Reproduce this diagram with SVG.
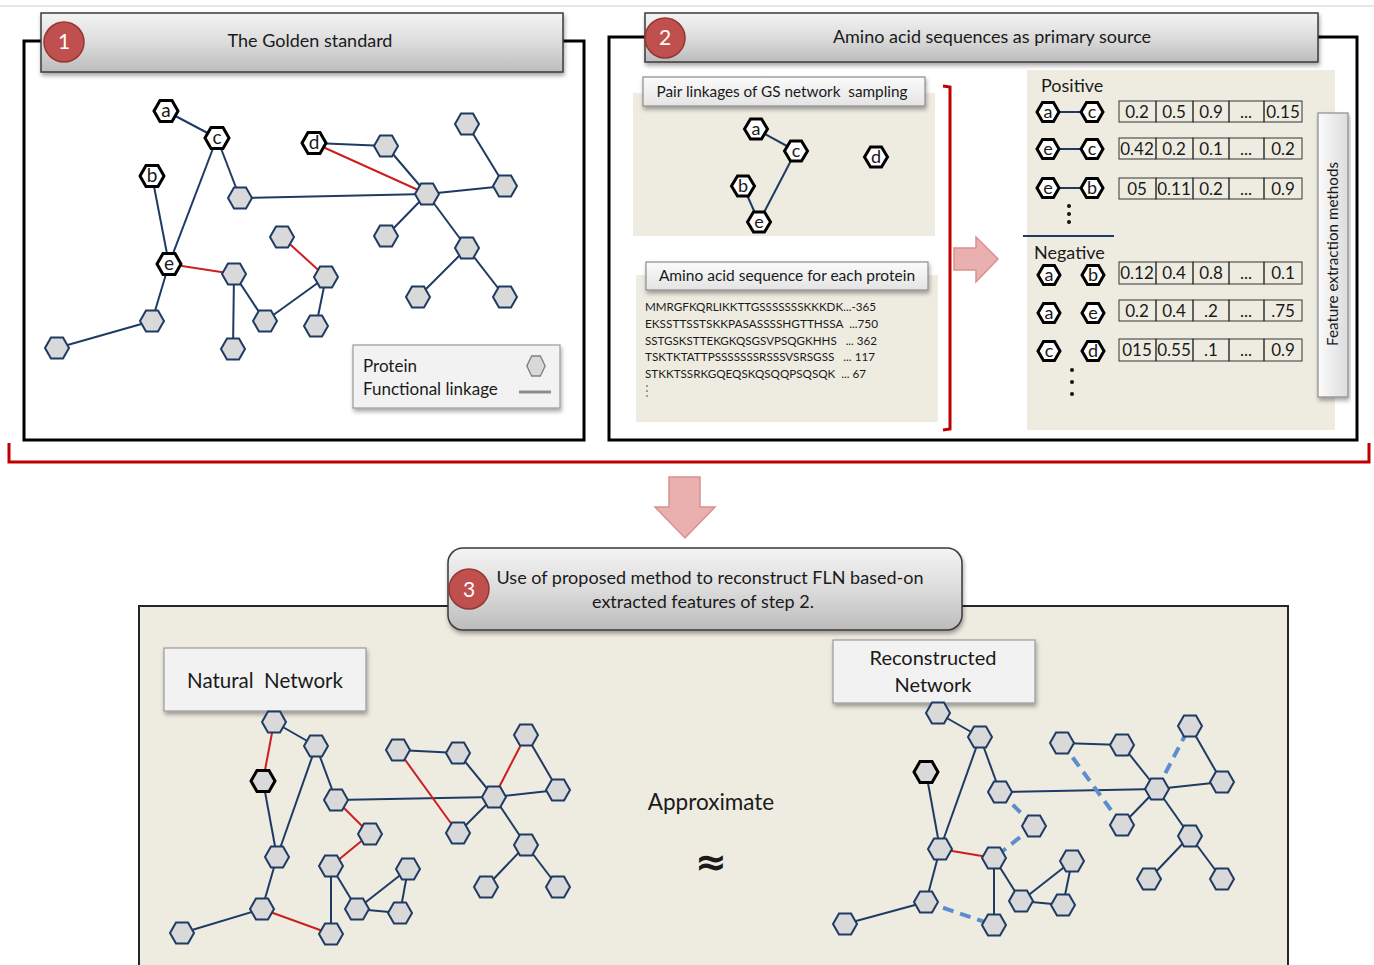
<svg xmlns="http://www.w3.org/2000/svg" xmlns:xlink="http://www.w3.org/1999/xlink" width="1374" height="965" viewBox="0 0 1374 965">
<defs>
<linearGradient id="hdr" x1="0" y1="0" x2="0" y2="1"><stop offset="0" stop-color="#f4f4f4"/><stop offset="0.5" stop-color="#dcdcdc"/><stop offset="1" stop-color="#bcbcbc"/></linearGradient>
<linearGradient id="lbl" x1="0" y1="0" x2="0" y2="1"><stop offset="0" stop-color="#fbfbfb"/><stop offset="1" stop-color="#e4e4e4"/></linearGradient>
<linearGradient id="vlbl" x1="0" y1="0" x2="1" y2="0"><stop offset="0" stop-color="#fbfbfb"/><stop offset="1" stop-color="#dcdcdc"/></linearGradient>
<filter id="sh" x="-10%" y="-20%" width="120%" height="150%"><feDropShadow dx="1" dy="3" stdDeviation="2" flood-color="#000" flood-opacity="0.35"/></filter>
<path id="hg" d="M-12,0 L-6,-10.5 L6,-10.5 L12,0 L6,10.5 L-6,10.5 Z"/>
<path id="hs" d="M-11.5,0 L-5.5,-10 L5.5,-10 L11.5,0 L5.5,10 L-5.5,10 Z"/>
<path id="ht" d="M-11,0 L-5.5,-9.5 L5.5,-9.5 L11,0 L5.5,9.5 L-5.5,9.5 Z"/>
</defs>
<style>
text{font-family:Lato,"Liberation Sans",sans-serif;fill:#1a1a1a}
.panel{fill:#fff;stroke:#000;stroke-width:3}
.hdr{fill:url(#hdr);stroke:#3a3a3a;stroke-width:1.5;filter:url(#sh)}
.lbl{fill:url(#lbl);stroke:#8c8c8c;stroke-width:1.2;filter:url(#sh)}
.box{fill:#f2f2f2;stroke:#999;stroke-width:1.2;filter:url(#sh)}
.tan{fill:#eeece1}
.num{fill:#c0504d;stroke:#943634;stroke-width:1.5}
.numt{fill:#fff;font-size:21px;text-anchor:middle}
.gh{fill:#d9d9d9;stroke:#1f3b63;stroke-width:2}
.kh{fill:#fff;stroke:#000;stroke-width:3}
.kd{fill:#d9d9d9;stroke:#000;stroke-width:3}
.lt{font-size:19px;text-anchor:middle}
.st{font-size:18px;text-anchor:middle}
.e{stroke:#1f3b63;stroke-width:2;fill:none}
.r{stroke:#cc1f1f;stroke-width:2;fill:none}
.d{stroke:#5b8dcf;stroke-width:4;stroke-dasharray:11 7;fill:none}
.br{stroke:#c00000;stroke-width:3;fill:none}
.arrow{fill:#eab0b0;stroke:#d99090;stroke-width:1.5}
.cell{fill:none;stroke:#333;stroke-width:1}
.ct{font-size:17px;text-anchor:middle}
.seq{font-size:11.5px}
</style>
<line x1="0" y1="6" x2="1374" y2="6" stroke="#e6e6e6" stroke-width="2"/>
<!-- Panel 1 -->
<g id="panel1">
<rect class="panel" x="24" y="41" width="560" height="399"/>
<rect class="hdr" x="41" y="13" width="522" height="59"/>
<circle class="num" cx="64" cy="42" r="20"/>
<text class="numt" x="64" y="49">1</text>
<text x="310" y="47" font-size="18" text-anchor="middle">The Golden standard</text>
</g>
<!-- Panel 2 -->
<g id="panel2">
<rect class="panel" x="609" y="37" width="748" height="403"/>
<rect class="hdr" x="645" y="13" width="673" height="49"/>
<circle class="num" cx="665" cy="38" r="20"/>
<text class="numt" x="665" y="45">2</text>
<text x="992" y="43" font-size="18" text-anchor="middle">Amino acid sequences as primary source</text>
<rect class="tan" x="633" y="93" width="302" height="143"/>
<rect class="tan" x="636" y="275" width="302" height="147"/>
<rect class="tan" x="1027" y="70" width="308" height="360"/>
</g>
<g id="label-pair"><rect class="lbl" x="643" y="77" width="282" height="29"/><text x="782" y="97" font-size="15.3" text-anchor="middle">Pair linkages of GS network&#160; sampling</text></g>
<g id="label-amino"><rect class="lbl" x="646" y="262" width="282" height="28"/><text x="787" y="281" font-size="15.5" text-anchor="middle">Amino acid sequence for each protein</text></g>
<g id="sequences">
<text class="seq" x="645" y="311" textLength="231" lengthAdjust="spacingAndGlyphs">MMRGFKQRLIKKTTGSSSSSSSKKKDK...-365</text>
<text class="seq" x="645" y="328" textLength="233" lengthAdjust="spacingAndGlyphs">EKSSTTSSTSKKPASASSSSHGTTHSSA&#160; ...750</text>
<text class="seq" x="645" y="345" textLength="232" lengthAdjust="spacingAndGlyphs">SSTGSKSTTEKGKQSGSVPSQGKHHS&#160;&#160; ... 362</text>
<text class="seq" x="645" y="361" textLength="230" lengthAdjust="spacingAndGlyphs">TSKTKTATTPSSSSSSSRSSSVSRSGSS&#160;&#160; ... 117</text>
<text class="seq" x="645" y="378" textLength="221" lengthAdjust="spacingAndGlyphs">STKKTSSRKGQEQSKQSQQPSQSQK&#160; ... 67</text>
<circle cx="647" cy="386" r="0.8" fill="#333"/><circle cx="647" cy="391" r="0.8" fill="#333"/><circle cx="647" cy="396" r="0.8" fill="#333"/>
</g>
<g id="label-feature"><rect x="1318" y="113" width="30" height="284" fill="url(#vlbl)" stroke="#8c8c8c" stroke-width="1.2" filter="url(#sh)"/><text x="0" y="0" font-size="15.2" text-anchor="middle" transform="translate(1338,254) rotate(-90)">Feature extraction methods</text></g>
<g id="positive-negative">
<text x="1041" y="92" font-size="18">Positive</text>
<text x="1034" y="259" font-size="18">Negative</text>
<line x1="1023" y1="236" x2="1114" y2="236" stroke="#1f3b63" stroke-width="2"/>
<circle cx="1069" cy="206" r="2" fill="#111"/><circle cx="1069" cy="214" r="2" fill="#111"/><circle cx="1069" cy="222" r="2" fill="#111"/>
<circle cx="1072" cy="370" r="2" fill="#111"/><circle cx="1072" cy="382" r="2" fill="#111"/><circle cx="1072" cy="394" r="2" fill="#111"/>
</g>
<g id="table">
<g id="row-p1"><rect class="cell" x="1119" y="101" width="37" height="21"/><rect class="cell" x="1156" y="101" width="37" height="21"/><rect class="cell" x="1193" y="101" width="36" height="21"/><rect class="cell" x="1229" y="101" width="35" height="21"/><rect class="cell" x="1264" y="101" width="38" height="21"/>
<text class="ct" x="1137" y="118">0.2</text><text class="ct" x="1174" y="118">0.5</text><text class="ct" x="1211" y="118">0.9</text><text class="ct" x="1246" y="118">...</text><text class="ct" x="1283" y="118">0.15</text></g>
<g id="row-p2"><rect class="cell" x="1119" y="138" width="37" height="21"/><rect class="cell" x="1156" y="138" width="37" height="21"/><rect class="cell" x="1193" y="138" width="36" height="21"/><rect class="cell" x="1229" y="138" width="35" height="21"/><rect class="cell" x="1264" y="138" width="38" height="21"/>
<text class="ct" x="1137" y="155">0.42</text><text class="ct" x="1174" y="155">0.2</text><text class="ct" x="1211" y="155">0.1</text><text class="ct" x="1246" y="155">...</text><text class="ct" x="1283" y="155">0.2</text></g>
<g id="row-p3"><rect class="cell" x="1119" y="178" width="37" height="21"/><rect class="cell" x="1156" y="178" width="37" height="21"/><rect class="cell" x="1193" y="178" width="36" height="21"/><rect class="cell" x="1229" y="178" width="35" height="21"/><rect class="cell" x="1264" y="178" width="38" height="21"/>
<text class="ct" x="1137" y="195">05</text><text class="ct" x="1174" y="195">0.11</text><text class="ct" x="1211" y="195">0.2</text><text class="ct" x="1246" y="195">...</text><text class="ct" x="1283" y="195">0.9</text></g>
<g id="row-n1"><rect class="cell" x="1119" y="262" width="37" height="22"/><rect class="cell" x="1156" y="262" width="37" height="22"/><rect class="cell" x="1193" y="262" width="36" height="22"/><rect class="cell" x="1229" y="262" width="35" height="22"/><rect class="cell" x="1264" y="262" width="38" height="22"/>
<text class="ct" x="1137" y="279">0.12</text><text class="ct" x="1174" y="279">0.4</text><text class="ct" x="1211" y="279">0.8</text><text class="ct" x="1246" y="279">...</text><text class="ct" x="1283" y="279">0.1</text></g>
<g id="row-n2"><rect class="cell" x="1119" y="300" width="37" height="21"/><rect class="cell" x="1156" y="300" width="37" height="21"/><rect class="cell" x="1193" y="300" width="36" height="21"/><rect class="cell" x="1229" y="300" width="35" height="21"/><rect class="cell" x="1264" y="300" width="38" height="21"/>
<text class="ct" x="1137" y="317">0.2</text><text class="ct" x="1174" y="317">0.4</text><text class="ct" x="1211" y="317">.2</text><text class="ct" x="1246" y="317">...</text><text class="ct" x="1283" y="317">.75</text></g>
<g id="row-n3"><rect class="cell" x="1119" y="339" width="37" height="22"/><rect class="cell" x="1156" y="339" width="37" height="22"/><rect class="cell" x="1193" y="339" width="36" height="22"/><rect class="cell" x="1229" y="339" width="35" height="22"/><rect class="cell" x="1264" y="339" width="38" height="22"/>
<text class="ct" x="1137" y="356">015</text><text class="ct" x="1174" y="356">0.55</text><text class="ct" x="1211" y="356">.1</text><text class="ct" x="1246" y="356">...</text><text class="ct" x="1283" y="356">0.9</text></g>
</g>
<!-- legend -->
<g id="legend">
<rect class="box" x="353" y="345" width="207" height="63"/>
<text x="363" y="372" font-size="17">Protein</text>
<text x="363" y="395" font-size="17">Functional linkage</text>
<use href="#hs" fill="#d9d9d9" stroke="#7f7f7f" stroke-width="1.5" transform="translate(536,366) scale(0.8,1)"/>
<line x1="519" y1="392" x2="551" y2="392" stroke="#8c8c8c" stroke-width="3"/>
</g>
<!-- Bottom panel -->
<g id="panel3">
<rect x="139" y="606" width="1149" height="380" fill="#eeece1" stroke="#262626" stroke-width="2"/>
<rect class="hdr" x="448" y="548" width="514" height="82" rx="15"/>
<circle class="num" cx="469" cy="589" r="20"/>
<text class="numt" x="469" y="597">3</text>
<text x="710" y="584" font-size="18" text-anchor="middle">Use of proposed method to reconstruct FLN based-on</text>
<text x="703" y="608" font-size="18" text-anchor="middle">extracted features of step 2.</text>
<text x="711" y="810" font-size="22.5" text-anchor="middle">Approximate</text>
<text x="711" y="875" font-size="38" font-weight="bold" text-anchor="middle" style="font-family:'DejaVu Sans',sans-serif">≈</text>
</g>
<g id="label-natural"><rect class="box" x="164" y="648" width="202" height="63"/><text x="265" y="688" font-size="20.5" text-anchor="middle">Natural&#160; Network</text></g>
<g id="label-recon"><rect class="box" x="833" y="640" width="202" height="63"/><text x="933" y="665" font-size="20" text-anchor="middle">Reconstructed</text><text x="933" y="692" font-size="20" text-anchor="middle">Network</text></g>
<!-- Connectors -->
<g id="connectors">
<path class="br" d="M9,443 L9,462 L1369,462 L1369,443"/>
<path class="br" d="M943,86 L950,87 L950,429 L943,430"/>
<path class="arrow" d="M954,248 L976,248 L976,237 L998,259 L976,282 L976,270 L954,270 Z"/>
<path class="arrow" d="M669,477 L700,477 L700,507 L715,507 L685,538 L655,507 L669,507 Z"/>
<!-- panel 1 edges -->
<line class="e" x1="166" y1="111" x2="217" y2="138"/>
<line class="e" x1="217" y1="138" x2="169" y2="264"/>
<line class="e" x1="217" y1="138" x2="240" y2="198"/>
<line class="e" x1="152" y1="176" x2="169" y2="264"/>
<line class="r" x1="169" y1="264" x2="234" y2="274"/>
<line class="e" x1="169" y1="264" x2="152" y2="321"/>
<line class="e" x1="152" y1="321" x2="57" y2="348"/>
<line class="e" x1="234" y1="274" x2="265" y2="321"/>
<line class="e" x1="234" y1="274" x2="233" y2="349"/>
<line class="e" x1="265" y1="321" x2="326" y2="277"/>
<line class="r" x1="282" y1="237" x2="326" y2="277"/>
<line class="e" x1="326" y1="277" x2="316" y2="326"/>
<line class="e" x1="240" y1="198" x2="427" y2="194"/>
<line class="e" x1="314" y1="143" x2="386" y2="146"/>
<line class="r" x1="314" y1="143" x2="427" y2="194"/>
<line class="e" x1="386" y1="146" x2="427" y2="194"/>
<line class="e" x1="427" y1="194" x2="505" y2="186"/>
<line class="e" x1="467" y1="124" x2="505" y2="186"/>
<line class="e" x1="427" y1="194" x2="386" y2="236"/>
<line class="e" x1="427" y1="194" x2="467" y2="248"/>
<line class="e" x1="467" y1="248" x2="418" y2="297"/>
<line class="e" x1="467" y1="248" x2="505" y2="297"/>
<!-- panel 2 edges -->
<line class="e" x1="756" y1="129" x2="796" y2="151"/>
<line class="e" x1="796" y1="151" x2="759" y2="222"/>
<line class="e" x1="743" y1="186" x2="759" y2="222"/>
<line class="e" x1="1048" y1="112" x2="1092" y2="112"/>
<line class="e" x1="1048" y1="149" x2="1092" y2="149"/>
<line class="e" x1="1048" y1="188" x2="1092" y2="188"/>
<!-- natural network edges -->
<line class="r" x1="274" y1="722" x2="263" y2="781"/>
<line class="e" x1="274" y1="722" x2="316" y2="746"/>
<line class="e" x1="263" y1="781" x2="277" y2="857"/>
<line class="e" x1="316" y1="746" x2="277" y2="857"/>
<line class="e" x1="316" y1="746" x2="336" y2="800"/>
<line class="r" x1="336" y1="800" x2="370" y2="834"/>
<line class="r" x1="370" y1="834" x2="331" y2="866"/>
<line class="e" x1="336" y1="800" x2="494" y2="797"/>
<line class="e" x1="331" y1="866" x2="357" y2="909"/>
<line class="e" x1="331" y1="866" x2="331" y2="934"/>
<line class="e" x1="357" y1="909" x2="408" y2="869"/>
<line class="e" x1="357" y1="909" x2="400" y2="913"/>
<line class="e" x1="408" y1="869" x2="400" y2="913"/>
<line class="e" x1="277" y1="857" x2="262" y2="909"/>
<line class="e" x1="262" y1="909" x2="182" y2="933"/>
<line class="r" x1="262" y1="909" x2="331" y2="934"/>
<line class="e" x1="398" y1="750" x2="458" y2="753"/>
<line class="r" x1="398" y1="750" x2="458" y2="833"/>
<line class="e" x1="458" y1="753" x2="494" y2="797"/>
<line class="e" x1="458" y1="833" x2="494" y2="797"/>
<line class="r" x1="494" y1="797" x2="526" y2="735"/>
<line class="e" x1="526" y1="735" x2="558" y2="790"/>
<line class="e" x1="494" y1="797" x2="558" y2="790"/>
<line class="e" x1="494" y1="797" x2="526" y2="845"/>
<line class="e" x1="526" y1="845" x2="486" y2="887"/>
<line class="e" x1="526" y1="845" x2="558" y2="887"/>
<!-- reconstructed network edges -->
<line class="e" x1="938" y1="713" x2="980" y2="737"/>
<line class="e" x1="926" y1="772" x2="940" y2="849"/>
<line class="e" x1="980" y1="737" x2="940" y2="849"/>
<line class="e" x1="980" y1="737" x2="1000" y2="792"/>
<line class="e" x1="1000" y1="792" x2="1157" y2="789"/>
<line class="d" x1="1000" y1="792" x2="1034" y2="826"/>
<line class="d" x1="1034" y1="826" x2="994" y2="858"/>
<line class="r" x1="940" y1="849" x2="994" y2="858"/>
<line class="e" x1="994" y1="858" x2="1021" y2="901"/>
<line class="e" x1="994" y1="858" x2="994" y2="925"/>
<line class="e" x1="1021" y1="901" x2="1072" y2="861"/>
<line class="e" x1="1072" y1="861" x2="1063" y2="905"/>
<line class="e" x1="1021" y1="901" x2="1063" y2="905"/>
<line class="e" x1="940" y1="849" x2="926" y2="902"/>
<line class="e" x1="926" y1="902" x2="845" y2="924"/>
<line class="d" x1="926" y1="902" x2="994" y2="925"/>
<line class="e" x1="1062" y1="743" x2="1122" y2="745"/>
<line class="d" x1="1062" y1="743" x2="1122" y2="825"/>
<line class="e" x1="1122" y1="745" x2="1157" y2="789"/>
<line class="e" x1="1122" y1="825" x2="1157" y2="789"/>
<line class="d" x1="1157" y1="789" x2="1190" y2="726"/>
<line class="e" x1="1190" y1="726" x2="1222" y2="782"/>
<line class="e" x1="1157" y1="789" x2="1222" y2="782"/>
<line class="e" x1="1157" y1="789" x2="1190" y2="836"/>
<line class="e" x1="1190" y1="836" x2="1149" y2="879"/>
<line class="e" x1="1190" y1="836" x2="1222" y2="879"/>
</g>
<!-- Panel 1 nodes -->
<g id="p1-a"><use href="#hg" x="166" y="111" class="kh"/><text class="lt" x="166" y="117">a</text></g>
<g id="p1-c"><use href="#hg" x="217" y="138" class="kh"/><text class="lt" x="217" y="144">c</text></g>
<g id="p1-b"><use href="#hg" x="152" y="176" class="kh"/><text class="lt" x="152" y="182">b</text></g>
<g id="p1-d"><use href="#hg" x="314" y="143" class="kh"/><text class="lt" x="314" y="149">d</text></g>
<g id="p1-e"><use href="#hg" x="169" y="264" class="kh"/><text class="lt" x="169" y="270">e</text></g>
<g id="p1-n1"><use href="#hg" x="240" y="198" class="gh"/></g>
<g id="p1-n2"><use href="#hg" x="427" y="194" class="gh"/></g>
<g id="p1-n3"><use href="#hg" x="386" y="146" class="gh"/></g>
<g id="p1-n4"><use href="#hg" x="467" y="124" class="gh"/></g>
<g id="p1-n5"><use href="#hg" x="505" y="186" class="gh"/></g>
<g id="p1-n6"><use href="#hg" x="386" y="236" class="gh"/></g>
<g id="p1-n7"><use href="#hg" x="467" y="248" class="gh"/></g>
<g id="p1-n8"><use href="#hg" x="418" y="297" class="gh"/></g>
<g id="p1-n9"><use href="#hg" x="505" y="297" class="gh"/></g>
<g id="p1-n10"><use href="#hg" x="282" y="237" class="gh"/></g>
<g id="p1-n11"><use href="#hg" x="326" y="277" class="gh"/></g>
<g id="p1-n12"><use href="#hg" x="234" y="274" class="gh"/></g>
<g id="p1-n13"><use href="#hg" x="265" y="321" class="gh"/></g>
<g id="p1-n14"><use href="#hg" x="316" y="326" class="gh"/></g>
<g id="p1-n15"><use href="#hg" x="233" y="349" class="gh"/></g>
<g id="p1-n16"><use href="#hg" x="152" y="321" class="gh"/></g>
<g id="p1-n17"><use href="#hg" x="57" y="348" class="gh"/></g>
<!-- Panel 2 nodes -->
<g id="p2-a"><use href="#hs" x="756" y="129" class="kh"/><text class="st" x="756" y="135">a</text></g>
<g id="p2-c"><use href="#hs" x="796" y="151" class="kh"/><text class="st" x="796" y="157">c</text></g>
<g id="p2-d"><use href="#hs" x="876" y="157" class="kh"/><text class="st" x="876" y="163">d</text></g>
<g id="p2-b"><use href="#hs" x="743" y="186" class="kh"/><text class="st" x="743" y="192">b</text></g>
<g id="p2-e"><use href="#hs" x="759" y="222" class="kh"/><text class="st" x="759" y="228">e</text></g>
<g id="pos1-a"><use href="#ht" x="1048" y="112" class="kh"/><text class="st" x="1048" y="118">a</text></g>
<g id="pos1-c"><use href="#ht" x="1092" y="112" class="kh"/><text class="st" x="1092" y="118">c</text></g>
<g id="pos2-e"><use href="#ht" x="1048" y="149" class="kh"/><text class="st" x="1048" y="155">e</text></g>
<g id="pos2-c"><use href="#ht" x="1092" y="149" class="kh"/><text class="st" x="1092" y="155">c</text></g>
<g id="pos3-e"><use href="#ht" x="1048" y="188" class="kh"/><text class="st" x="1048" y="194">e</text></g>
<g id="pos3-b"><use href="#ht" x="1092" y="188" class="kh"/><text class="st" x="1092" y="194">b</text></g>
<g id="neg1-a"><use href="#ht" x="1049" y="275" class="kh"/><text class="st" x="1049" y="281">a</text></g>
<g id="neg1-b"><use href="#ht" x="1093" y="275" class="kh"/><text class="st" x="1093" y="281">b</text></g>
<g id="neg2-a"><use href="#ht" x="1049" y="313" class="kh"/><text class="st" x="1049" y="319">a</text></g>
<g id="neg2-e"><use href="#ht" x="1093" y="313" class="kh"/><text class="st" x="1093" y="319">e</text></g>
<g id="neg3-c"><use href="#ht" x="1049" y="351" class="kh"/><text class="st" x="1049" y="357">c</text></g>
<g id="neg3-d"><use href="#ht" x="1093" y="351" class="kh"/><text class="st" x="1093" y="357">d</text></g>
<!-- Natural network nodes -->
<g id="nat-A"><use href="#hg" x="274" y="722" class="gh"/></g>
<g id="nat-B"><use href="#hg" x="316" y="746" class="gh"/></g>
<g id="nat-C"><use href="#hg" x="263" y="781" class="kd"/></g>
<g id="nat-D"><use href="#hg" x="336" y="800" class="gh"/></g>
<g id="nat-E"><use href="#hg" x="370" y="834" class="gh"/></g>
<g id="nat-F"><use href="#hg" x="277" y="857" class="gh"/></g>
<g id="nat-G"><use href="#hg" x="331" y="866" class="gh"/></g>
<g id="nat-H"><use href="#hg" x="408" y="869" class="gh"/></g>
<g id="nat-I"><use href="#hg" x="357" y="909" class="gh"/></g>
<g id="nat-J"><use href="#hg" x="400" y="913" class="gh"/></g>
<g id="nat-K"><use href="#hg" x="262" y="909" class="gh"/></g>
<g id="nat-L"><use href="#hg" x="182" y="933" class="gh"/></g>
<g id="nat-M"><use href="#hg" x="331" y="934" class="gh"/></g>
<g id="nat-N"><use href="#hg" x="398" y="750" class="gh"/></g>
<g id="nat-O"><use href="#hg" x="458" y="753" class="gh"/></g>
<g id="nat-P"><use href="#hg" x="526" y="735" class="gh"/></g>
<g id="nat-Q"><use href="#hg" x="494" y="797" class="gh"/></g>
<g id="nat-R"><use href="#hg" x="558" y="790" class="gh"/></g>
<g id="nat-S"><use href="#hg" x="458" y="833" class="gh"/></g>
<g id="nat-T"><use href="#hg" x="526" y="845" class="gh"/></g>
<g id="nat-U"><use href="#hg" x="486" y="887" class="gh"/></g>
<g id="nat-V"><use href="#hg" x="558" y="887" class="gh"/></g>
<!-- Reconstructed network nodes -->
<g id="rec-A"><use href="#hg" x="938" y="713" class="gh"/></g>
<g id="rec-B"><use href="#hg" x="980" y="737" class="gh"/></g>
<g id="rec-C"><use href="#hg" x="926" y="772" class="kd"/></g>
<g id="rec-D"><use href="#hg" x="1000" y="792" class="gh"/></g>
<g id="rec-E"><use href="#hg" x="1034" y="826" class="gh"/></g>
<g id="rec-F"><use href="#hg" x="940" y="849" class="gh"/></g>
<g id="rec-G"><use href="#hg" x="994" y="858" class="gh"/></g>
<g id="rec-H"><use href="#hg" x="1072" y="861" class="gh"/></g>
<g id="rec-I"><use href="#hg" x="1021" y="901" class="gh"/></g>
<g id="rec-J"><use href="#hg" x="1063" y="905" class="gh"/></g>
<g id="rec-K"><use href="#hg" x="926" y="902" class="gh"/></g>
<g id="rec-L"><use href="#hg" x="845" y="924" class="gh"/></g>
<g id="rec-M"><use href="#hg" x="994" y="925" class="gh"/></g>
<g id="rec-N"><use href="#hg" x="1062" y="743" class="gh"/></g>
<g id="rec-O"><use href="#hg" x="1122" y="745" class="gh"/></g>
<g id="rec-P"><use href="#hg" x="1190" y="726" class="gh"/></g>
<g id="rec-Q"><use href="#hg" x="1157" y="789" class="gh"/></g>
<g id="rec-R"><use href="#hg" x="1222" y="782" class="gh"/></g>
<g id="rec-S"><use href="#hg" x="1122" y="825" class="gh"/></g>
<g id="rec-T"><use href="#hg" x="1190" y="836" class="gh"/></g>
<g id="rec-U"><use href="#hg" x="1149" y="879" class="gh"/></g>
<g id="rec-V"><use href="#hg" x="1222" y="879" class="gh"/></g>
</svg>
